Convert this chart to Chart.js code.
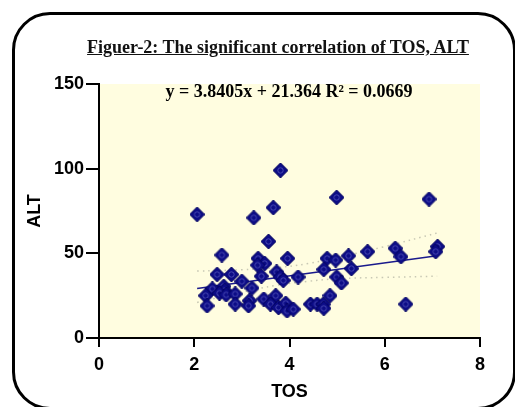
<!DOCTYPE html>
<html>
<head>
<meta charset="utf-8">
<script src="https://cdn.jsdelivr.net/npm/chart.js@4"></script>
<style>
  html, body { margin: 0; padding: 0; background: #fff; }
  #wrap { position: relative; width: 515px; height: 407px; overflow: hidden; }
  #frame {
    position: absolute; left: 12px; top: 12px; width: 498px; height: 392px;
    border: 3px solid #000; border-radius: 38px;
  }
  #title {
    position: absolute; left: 0; width: 556px; top: 37px; text-align: center;
    font: bold 18px "Liberation Serif", serif; text-decoration: underline; color: #111;
  }
  #eq {
    position: absolute; left: 0; width: 578px; top: 81px; text-align: center;
    font: bold 18px "Liberation Serif", serif; color: #000;
  }
  canvas { position: absolute; left: 0; top: 0; }
</style>
</head>
<body>
<div id="wrap">
  <div id="frame"></div>
  <canvas id="chart" width="515" height="407"></canvas>
  <div id="title">Figuer-2: The significant correlation of TOS, ALT</div>
  <div id="eq">y = 3.8405x + 21.364 R² = 0.0669</div>
</div>
<script>
// TOS (x) and ALT (y) values
const tosValues = [2.06, 3.25, 3.66, 3.81, 4.99, 6.93, 3.56, 2.58, 3.34, 3.48,
  3.33, 3.96, 2.48, 2.78, 3.0, 3.41, 3.73, 3.81, 3.87, 4.18,
  2.62, 2.38, 2.64, 3.21, 2.24, 2.53, 2.67, 2.86, 2.27, 2.86,
  3.16, 3.14, 3.46, 3.71, 3.6, 3.77, 3.92, 3.95, 4.08, 4.44,
  4.58, 4.71, 4.72, 4.85, 4.79, 4.97, 5.24, 5.64, 6.22, 6.34,
  7.11, 7.07, 4.72, 5.3, 4.99, 5.09, 6.44];
const altValues = [73, 71, 77, 99, 83, 82, 57, 49, 47, 44,
  43, 47, 37.5, 37.5, 33.5, 36.5, 39, 36, 34, 36,
  30.5, 29, 28, 29.5, 25, 26.5, 25.5, 26, 19, 20,
  22, 19, 23, 25, 20, 18, 20.5, 16, 17, 20,
  20, 20, 17.5, 25, 47, 46, 48.5, 51, 53, 48,
  54, 51, 40.5, 41, 36, 32.5, 20];

// trend line ends and confidence band
const trendX = [2.06, 7.1];
const trendY = [29.3, 48.6];
const bandX = [2.06, 3, 3.7, 4.4, 5, 6, 7.1];
const bandUpper = [39.5, 40.3, 41.5, 44, 47.5, 54, 62];
const bandLower = [21, 27, 31, 33.5, 35, 35.8, 36.5];

const xTicks = [0, 2, 4, 6, 8];
const yTicks = [0, 50, 100, 150];

const toPoints = (xs, ys) => xs.map((x, i) => ({ x: x, y: ys[i] }));

// diamond marker with a small ring in the middle
function makeMarker() {
  const c = document.createElement('canvas');
  c.width = 15; c.height = 15;
  const g = c.getContext('2d');
  g.beginPath();
  g.moveTo(7.5, 0); g.lineTo(15, 7.5); g.lineTo(7.5, 15); g.lineTo(0, 7.5); g.closePath();
  g.fillStyle = '#0c0c86';
  g.fill();
  g.strokeStyle = '#00005a';
  g.lineWidth = 1;
  g.stroke();
  g.beginPath();
  g.arc(7.5, 7.5, 2.7, 0, Math.PI * 2);
  g.strokeStyle = '#4a4ab4';
  g.lineWidth = 1;
  g.stroke();
  return c;
}
const marker = makeMarker();

const plotBg = {
  id: 'plotBg',
  beforeDraw(chart) {
    const { ctx, chartArea: a } = chart;
    ctx.save();
    ctx.fillStyle = '#fffde0';
    ctx.fillRect(a.left, a.top, a.right - a.left, a.bottom - a.top);
    ctx.restore();
  }
};

const bold = { family: '"Liberation Sans", Arial, sans-serif', weight: 'bold' };

new Chart(document.getElementById('chart'), {
  type: 'scatter',
  data: {
    datasets: [
      {
        data: toPoints(tosValues, altValues),
        pointStyle: marker,
        pointRadius: 7,
        order: 0
      },
      {
        type: 'line',
        data: toPoints(trendX, trendY),
        borderColor: '#1a1a8c',
        borderWidth: 1.5,
        pointRadius: 0,
        order: 1
      },
      {
        type: 'line',
        data: toPoints(bandX, bandUpper),
        borderColor: '#c8c8b4',
        borderWidth: 1.5,
        borderDash: [1.5, 4],
        tension: 0.4,
        pointRadius: 0,
        order: 2
      },
      {
        type: 'line',
        data: toPoints(bandX, bandLower),
        borderColor: '#c8c8b4',
        borderWidth: 1.5,
        borderDash: [1.5, 4],
        tension: 0.4,
        pointRadius: 0,
        order: 2
      }
    ]
  },
  options: {
    responsive: false,
    animation: false,
    layout: { padding: { left: 0, right: 35, top: 84, bottom: 0 } },
    plugins: { legend: { display: false }, tooltip: { enabled: false } },
    scales: {
      x: {
        type: 'linear',
        min: 0, max: 8,
        afterBuildTicks(s) { s.ticks = xTicks.map(v => ({ value: v })); },
        afterFit(s) { s.height = 69; },
        border: { color: '#000', width: 2 },
        grid: { drawOnChartArea: false, color: '#000', lineWidth: 2, tickLength: 9 },
        ticks: { color: '#000', font: { ...bold, size: 18 }, padding: 7, maxRotation: 0 },
        title: { display: true, text: 'TOS', color: '#000', font: { ...bold, size: 18 }, padding: { top: 0, bottom: 4 } }
      },
      y: {
        min: 0, max: 150,
        afterBuildTicks(s) { s.ticks = yTicks.map(v => ({ value: v })); },
        afterFit(s) { s.width = 99; },
        border: { color: '#000', width: 2 },
        grid: { drawOnChartArea: false, color: '#000', lineWidth: 2, tickLength: 13 },
        ticks: { color: '#000', font: { ...bold, size: 18 }, padding: 2 },
        title: { display: true, text: 'ALT', color: '#000', font: { ...bold, size: 18 }, padding: { top: 24, bottom: 0 } }
      }
    }
  },
  plugins: [plotBg]
});
</script>
</body>
</html>
